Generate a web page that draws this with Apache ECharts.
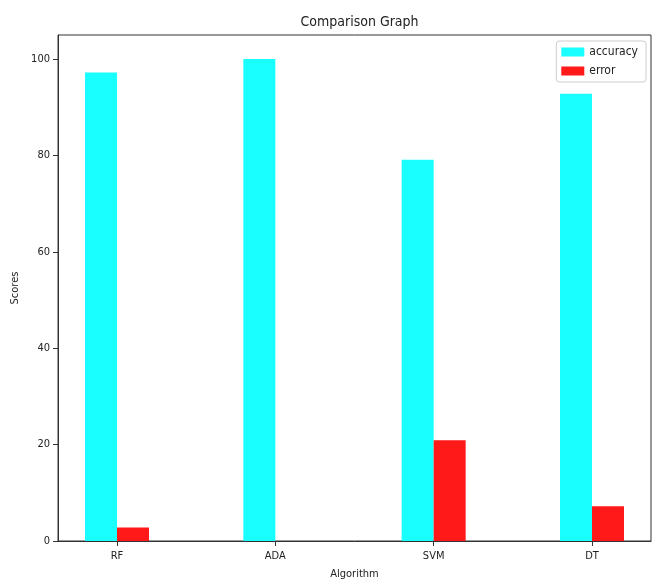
<!DOCTYPE html>
<html><head><meta charset="utf-8">
<script src="https://cdn.jsdelivr.net/npm/echarts@6/dist/echarts.min.js"></script>
<style>html,body{margin:0;padding:0;background:#fff}#c{width:657px;height:582px}</style>
</head><body><div id="c"></div>
<script>
const categories = ['RF', 'ADA', 'SVM', 'DT'];
const accuracy = [97.2, 100, 79.1, 92.8];
const error = [2.8, 0, 20.9, 7.2];
const yTicks = [0, 20, 40, 60, 80, 100];

const FONT = "'DejaVu Sans Condensed', 'DejaVu Sans', sans-serif";
const chart = echarts.init(document.getElementById('c'));
const idx = categories.map((_, i) => i);
chart.setOption({
  animation: false,
  textStyle: { fontFamily: FONT },
  title: { text: 'Comparison Graph', left: 354.5, textAlign: 'center', top: 10,
    textStyle: { fontFamily: FONT, fontSize: 14, fontWeight: 'normal', color: '#222' } },
  legend: {
    right: 11, top: 41, orient: 'vertical', itemWidth: 23, itemHeight: 9, itemGap: 7,
    icon: 'rect',
    padding: [5, 8, 5, 5], borderColor: '#ccc', borderWidth: 1, borderRadius: 3,
    textStyle: { fontFamily: FONT, fontSize: 12, color: '#222' },
    data: ['accuracy', 'error']
  },
  grid: { left: 58, right: 6, top: 35, bottom: 41, outerBoundsMode: 'none', containLabel: false,
    show: true, borderColor: '#333', borderWidth: 1 },
  xAxis: {
    type: 'value', min: -0.3727, max: 3.3727,
    name: 'Algorithm', nameLocation: 'middle', nameGap: 28,
    nameTextStyle: { fontFamily: FONT, fontSize: 11, color: '#222' },
    axisLine: { onZero: false, lineStyle: { color: '#333' } },
    axisTick: { show: true, customValues: idx, length: 5, lineStyle: { color: '#333' } },
    axisLabel: { customValues: idx, formatter: v => categories[Math.round(v)], fontSize: 11, color: '#222', margin: 10 },
    splitLine: { show: false }
  },
  yAxis: {
    type: 'value', min: 0, max: 105,
    name: 'Scores', nameLocation: 'middle', nameGap: 33, nameRotate: 90,
    nameTextStyle: { fontFamily: FONT, fontSize: 11, color: '#222' },
    axisLine: { show: true, onZero: false, lineStyle: { color: '#333' } },
    axisTick: { show: true, customValues: yTicks, length: 5, lineStyle: { color: '#333' } },
    axisLabel: { customValues: yTicks, fontSize: 11, color: '#222', margin: 8 },
    splitLine: { show: false }
  },
  series: [
    { name: 'accuracy', type: 'bar', barWidth: 32, barGap: '0%',
      itemStyle: { color: '#19ffff' }, data: accuracy.map((v, i) => [i, v]) },
    { name: 'error', type: 'bar', barWidth: 32, barGap: '0%',
      itemStyle: { color: '#ff1919' }, data: error.map((v, i) => [i, v]) }
  ]
});
</script></body></html>
